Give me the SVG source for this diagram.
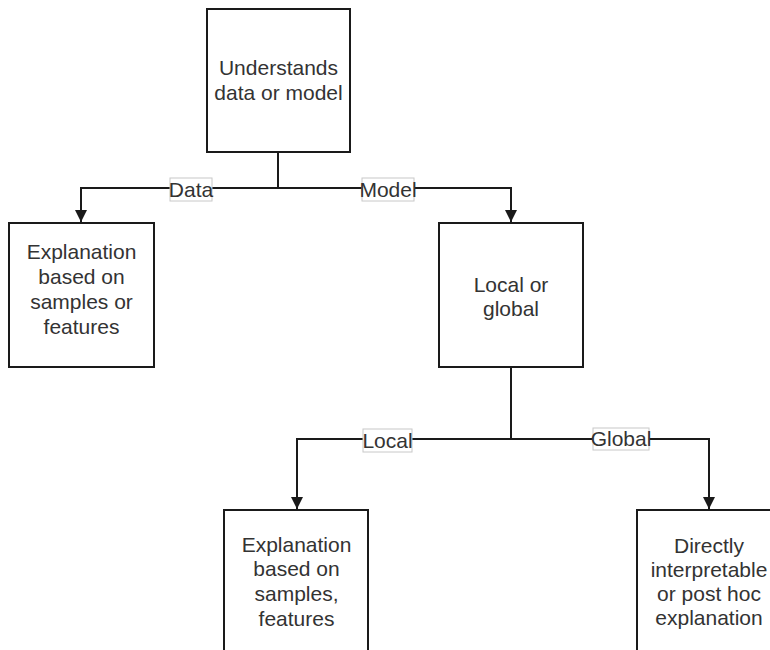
<svg xmlns="http://www.w3.org/2000/svg" width="770" height="650" viewBox="0 0 770 650">
<style>
.box{fill:#fff;stroke:#1a1a1a;stroke-width:2}
.t{font-family:"Liberation Sans",Arial,sans-serif;font-size:21px;fill:#333;text-anchor:middle}
.edge{fill:none;stroke:#1a1a1a;stroke-width:2}
.lbl{fill:#fff;stroke:#c8c8c8;stroke-width:1}
</style>
<defs>
<marker id="arr" viewBox="0 0 10 10" refX="10" refY="5" markerWidth="6" markerHeight="6" orient="auto" markerUnits="strokeWidth">
<path d="M0,0 L10,5 L0,10 Z" fill="#1a1a1a"/>
</marker>
</defs>
<rect width="770" height="650" fill="#fff"/>
<g id="connectors">
<path class="edge" d="M278,152 V188 H81 V222" marker-end="url(#arr)"/>
<path class="edge" d="M278,188 H511 V222" marker-end="url(#arr)"/>
<path class="edge" d="M511,367 V439 H297 V509" marker-end="url(#arr)"/>
<path class="edge" d="M511,439 H709 V509" marker-end="url(#arr)"/>
<g id="label-data"><rect class="lbl" x="170" y="178" width="42" height="23"/><text class="t" x="191" y="197" font-size="20">Data</text></g>
<g id="label-model"><rect class="lbl" x="362" y="178" width="52" height="23"/><text class="t" x="388" y="197" font-size="20">Model</text></g>
<g id="label-local"><rect class="lbl" x="363" y="429" width="49" height="23"/><text class="t" x="387.5" y="448" font-size="20">Local</text></g>
<g id="label-global"><rect class="lbl" x="593" y="428" width="56" height="22"/><text class="t" x="621" y="446" font-size="20">Global</text></g>
</g>
<g id="n-understands">
<rect class="box" x="207" y="9" width="143" height="143"/>
<text class="t" x="278.5" y="75">Understands</text>
<text class="t" x="278.5" y="100">data or model</text>
</g>
<g id="n-explanation1">
<rect class="box" x="9" y="223" width="145" height="144"/>
<text class="t" x="81.5" y="259">Explanation</text>
<text class="t" x="81.5" y="284">based on</text>
<text class="t" x="81.5" y="309">samples or</text>
<text class="t" x="81.5" y="334">features</text>
</g>
<g id="n-localglobal">
<rect class="box" x="439" y="223" width="144" height="144"/>
<text class="t" x="511" y="292">Local or</text>
<text class="t" x="511" y="316">global</text>
</g>
<g id="n-explanation2">
<rect class="box" x="224" y="510" width="144" height="150"/>
<text class="t" x="296.5" y="552">Explanation</text>
<text class="t" x="296.5" y="576">based on</text>
<text class="t" x="296.5" y="601">samples,</text>
<text class="t" x="296.5" y="626">features</text>
</g>
<g id="n-directly">
<rect class="box" x="637" y="510" width="144" height="150"/>
<text class="t" x="709" y="553">Directly</text>
<text class="t" x="709" y="577">interpretable</text>
<text class="t" x="709" y="601">or post hoc</text>
<text class="t" x="709" y="625">explanation</text>
</g>
</svg>
